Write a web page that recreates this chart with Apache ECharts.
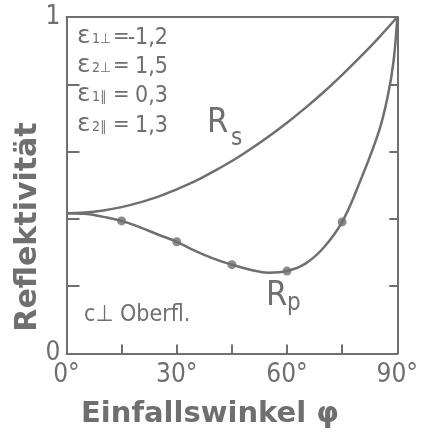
<!DOCTYPE html>
<html>
<head>
<meta charset="utf-8">
<script src="https://cdn.jsdelivr.net/npm/echarts@6/dist/echarts.min.js"></script>
<style>
  html, body { margin: 0; padding: 0; background: #fff; }
  #chart { width: 421px; height: 434px; }
</style>
</head>
<body>
<div id="chart"></div>
<script>
// Reflectivity of s- and p-polarised light versus angle of incidence
const rsAngles = [0, 5, 10, 15, 20, 25, 30, 35, 40, 45, 50, 55, 60, 65, 70, 75, 80, 85, 90];
const rsValues = [0.417, 0.419, 0.425, 0.435, 0.449, 0.466, 0.488, 0.512, 0.541, 0.572,
                  0.607, 0.645, 0.686, 0.730, 0.777, 0.828, 0.882, 0.939, 1.0];

const rpAngles = [0, 5, 10, 15, 20, 25, 30, 35, 40, 45, 50, 55, 60, 65, 70, 75, 80, 85, 87.5, 89, 90];
const rpValues = [0.417, 0.415, 0.406, 0.394, 0.375, 0.353, 0.332, 0.305, 0.282, 0.264,
                  0.249, 0.240, 0.245, 0.267, 0.315, 0.391, 0.515, 0.660, 0.770, 0.870, 1.0];

// measured points marked on the Rp curve
const rpDotAngles = [15, 30, 45, 60, 75];

const xTickLabels = ['0°', '30°', '60°', '90°'];
const yTickLabels = ['0', '1'];

const params = [
  { sub: '1⊥', value: '-1,2' },
  { sub: '2⊥', value: '1,5' },
  { sub: '1∥', value: '0,3' },
  { sub: '2∥', value: '1,3' }
];

const ink = '#6f6f6f';
const narrow = "'Liberation Sans Narrow', 'DejaVu Sans Condensed', 'Roboto', sans-serif";
const wide = "'DejaVu Sans', 'Noto Sans', sans-serif";

const rsData = rsAngles.map((a, i) => [a, rsValues[i]]);
const rpData = rpAngles.map((a, i) => [a, rpValues[i]]);
const dotData = rpDotAngles.map(a => [a, rpValues[rpAngles.indexOf(a)]]);

const paramLines = [];
const lineY = [38, 67, 96, 126];
params.forEach((p, i) => {
  const y = lineY[i];
  paramLines.push(
    { type: 'text', left: 77, top: y - 14, style: { text: 'ε', font: "25px 'DejaVu Sans'", fill: ink } },
    { type: 'text', left: 92, top: y - 6, style: { text: p.sub, font: "14px 'DejaVu Sans Condensed', 'DejaVu Sans'", fill: ink } },
    { type: 'text', left: 113, top: y - 12, style: { text: '=', font: "22px " + narrow, fill: ink } },
    { type: 'text', x: 168, y: y, style: { text: p.value, font: "23px " + narrow, fill: ink, align: 'right', verticalAlign: 'middle' } }
  );
});

const noZero = { onZero: false, show: true, lineStyle: { color: ink, width: 2 } };

const chart = echarts.init(document.getElementById('chart'), null, { renderer: 'canvas' });
chart.setOption({
  animation: false,
  backgroundColor: '#ffffff',
  grid: { left: 66.5, right: 20, top: 17, bottom: 80.5, containLabel: false },
  xAxis: [
    {
      type: 'value', position: 'bottom', min: 0, max: 90, interval: 15,
      axisLine: noZero,
      axisTick: { inside: true, length: 9, lineStyle: { color: ink, width: 2 } },
      axisLabel: {
        margin: 9, color: ink, fontSize: 26, fontFamily: narrow,
        formatter: v => (v % 30 === 0 ? xTickLabels[v / 30] : '')
      },
      splitLine: { show: false }
    },
    {
      type: 'value', position: 'top', min: 0, max: 90,
      axisLine: noZero,
      axisTick: { show: false }, axisLabel: { show: false }, splitLine: { show: false }
    }
  ],
  yAxis: [
    {
      type: 'value', position: 'left', min: 0, max: 1, interval: 0.2,
      axisLine: noZero,
      axisTick: { show: true, inside: true, length: 13, lineStyle: { color: ink, width: 2 } },
      axisLabel: {
        margin: 6, color: ink, fontSize: 26, fontFamily: narrow,
        formatter: v => (v === 0 ? yTickLabels[0] : (v === 1 ? yTickLabels[1] : ''))
      },
      splitLine: { show: false }
    },
    {
      type: 'value', position: 'right', min: 0, max: 1, interval: 0.2,
      axisLine: noZero,
      axisTick: { show: true, inside: true, length: 8, lineStyle: { color: ink, width: 2 } },
      axisLabel: { show: false }, splitLine: { show: false }
    }
  ],
  series: [
    {
      name: 'Rs', type: 'line', data: rsData, smooth: 0.4, showSymbol: false,
      lineStyle: { color: ink, width: 2.5 }, z: 3
    },
    {
      name: 'Rp', type: 'line', data: rpData, smooth: 0.4, showSymbol: false,
      lineStyle: { color: ink, width: 2.5 }, z: 3
    },
    {
      name: 'Rp Punkte', type: 'scatter', data: dotData, symbol: 'circle', symbolSize: 9,
      itemStyle: { color: ink }, z: 4
    }
  ],
  graphic: [
    // axis titles
    {
      type: 'text', x: 28, y: 227, rotation: Math.PI / 2,
      style: { text: 'Reflektivität', font: "bold 30px " + wide, fill: ink, align: 'center', verticalAlign: 'middle' }
    },
    {
      type: 'text', x: 210, y: 414,
      style: { text: 'Einfallswinkel φ', font: "bold 29px " + wide, fill: ink, align: 'center', verticalAlign: 'middle' }
    },
    // curve labels
    { type: 'text', left: 207, top: 106, style: { text: 'R', font: "34px " + narrow, fill: ink } },
    { type: 'text', left: 231, top: 127, style: { text: 's', font: "24px " + narrow, fill: ink } },
    { type: 'text', left: 266, top: 279, style: { text: 'R', font: "34px " + narrow, fill: ink } },
    { type: 'text', left: 287, top: 292, style: { text: 'p', font: "24px " + narrow, fill: ink } },
    // orientation note
    { type: 'text', left: 84, top: 304, style: { text: 'c⊥ Oberfl.', font: "23px " + narrow, fill: ink } }
  ].concat(paramLines)
});
</script>
</body>
</html>
